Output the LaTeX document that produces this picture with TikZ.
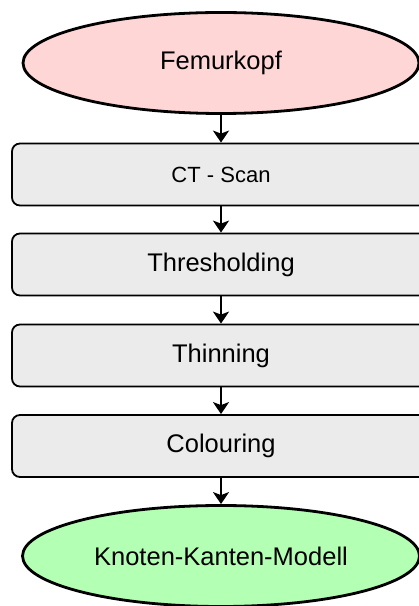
\documentclass[tikz,border=0pt]{standalone}
\usepackage{fontspec}
\setmainfont{Liberation Sans}
\usetikzlibrary{shapes.geometric,arrows.meta}
\definecolor{pinkfill}{HTML}{FFD6D6}
\definecolor{greenfill}{HTML}{B3FFB3}
\definecolor{greyfill}{HTML}{EBEBEB}
\begin{document}
\begin{tikzpicture}[x=1pt,y=1pt,
  oval/.style={ellipse, draw=black, line width=2.8pt, minimum width=396pt, minimum height=101pt, inner sep=0pt, font=\fontsize{25.5}{30}\selectfont},
  stepbox/.style={rectangle, rounded corners=8pt, draw=black, line width=1.8pt, fill=greyfill, minimum width=418pt, minimum height=62pt, inner sep=0pt, font=\fontsize{25.5}{30}\selectfont},
  conn/.style={line width=1.8pt, -{Stealth[width=16pt,length=12pt,inset=3pt]}}
]
\useasboundingbox (0,0) rectangle (419,606);
\node[oval, fill=pinkfill] (fem) at (221,543) {Femurkopf};
\node[stepbox, font=\fontsize{22}{26}\selectfont] (ct) at (221,431.5) {CT - Scan};
\node[stepbox] (thr) at (221,341.5) {Thresholding};
\node[stepbox] (thin) at (221,250.5) {Thinning};
\node[stepbox] (col) at (221,160) {Colouring};
\node[oval, fill=greenfill, minimum width=397pt] (kkm) at (221,50) {Knoten-Kanten-Modell};
\draw[conn] (fem.south) -- (ct.north);
\draw[conn] (ct.south) -- (thr.north);
\draw[conn] (thr.south) -- (thin.north);
\draw[conn] (thin.south) -- (col.north);
\draw[conn] (col.south) -- (kkm.north);
\end{tikzpicture}
\end{document}
